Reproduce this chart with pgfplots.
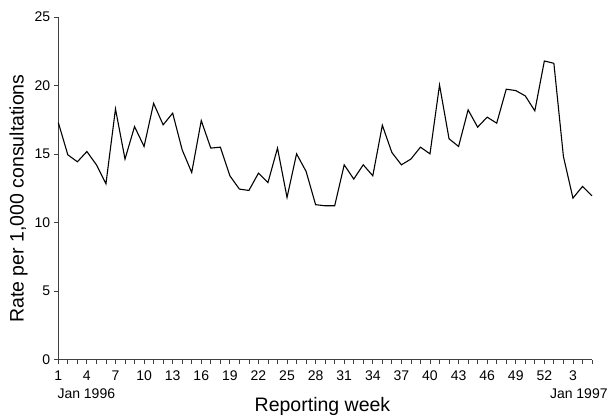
\documentclass[border=0pt]{standalone}
\usepackage{pgfplots}
\pgfplotsset{compat=1.18}
\usepackage{fontspec}
\setmainfont{Liberation Sans}
\begin{document}
\begin{tikzpicture}
\begin{axis}[
  at={(0pt,0pt)}, anchor=south west,
  scale only axis, width=533.7pt, height=342.5pt,
  xmin=0, xmax=56, ymin=0, ymax=25,
  axis x line=bottom, axis y line=left,
  axis line style={-, line width=0.8pt, black!75},
  xtick={0,3,...,51,54},
  xticklabels={1,4,7,10,13,16,19,22,25,28,31,34,37,40,43,46,49,52,3},
  minor xtick={0,1,...,56},
  ytick={0,5,...,25},
  tick align=outside,
  major tick length=4.5pt, minor tick length=4.5pt,
  tick style={line width=0.8pt, black!75},
  ticklabel style={font=\fontsize{14}{16}\selectfont},
  /pgf/number format/assume math mode=true,
  xticklabel style={yshift=-3.5pt},
  ylabel={Rate per 1,000 consultations},
  xlabel={Reporting week},
  label style={font=\fontsize{19.5}{22}\selectfont},
  ylabel style={at={(axis description cs:0,0.47)}, anchor=south, yshift=27pt},
  xlabel style={at={(axis description cs:0.495,0)}, anchor=north, yshift=-34pt},
  clip=false,
]
\addplot[black, line width=1.1pt, line join=miter] coordinates {
(0,17.3) (1,14.94) (2,14.43) (3,15.18) (4,14.21) (5,12.83) (6,18.29) (7,14.63)
(8,17.0) (9,15.55) (10,18.7) (11,17.13) (12,17.98) (13,15.3) (14,13.65) (15,17.44)
(16,15.43) (17,15.5) (18,13.41) (19,12.44) (20,12.34) (21,13.6) (22,12.92) (23,15.43)
(24,11.83) (25,15.01) (26,13.73) (27,11.3) (28,11.22) (29,11.22) (30,14.21) (31,13.17)
(32,14.21) (33,13.41) (34,17.1) (35,15.11) (36,14.21) (37,14.63) (38,15.5) (39,15.01)
(40,20.04) (41,16.11) (42,15.55) (43,18.22) (44,16.96) (45,17.69) (46,17.25) (47,19.73)
(48,19.63) (49,19.24) (50,18.15) (51,21.79) (52,21.62) (53,14.82) (54,11.78) (55,12.63)
(56,11.95)
};
\end{axis}
\node[anchor=north west, font=\fontsize{14}{16}\selectfont, inner sep=0pt] at (-1pt,-29pt) {Jan 1996};
\node[anchor=north east, font=\fontsize{14}{16}\selectfont, inner sep=0pt] at (549.5pt,-29pt) {Jan 1997};
\pgfresetboundingbox
\path (-58.3pt,-55.5pt) rectangle (550.7pt,359.5pt);
\end{tikzpicture}
\end{document}
